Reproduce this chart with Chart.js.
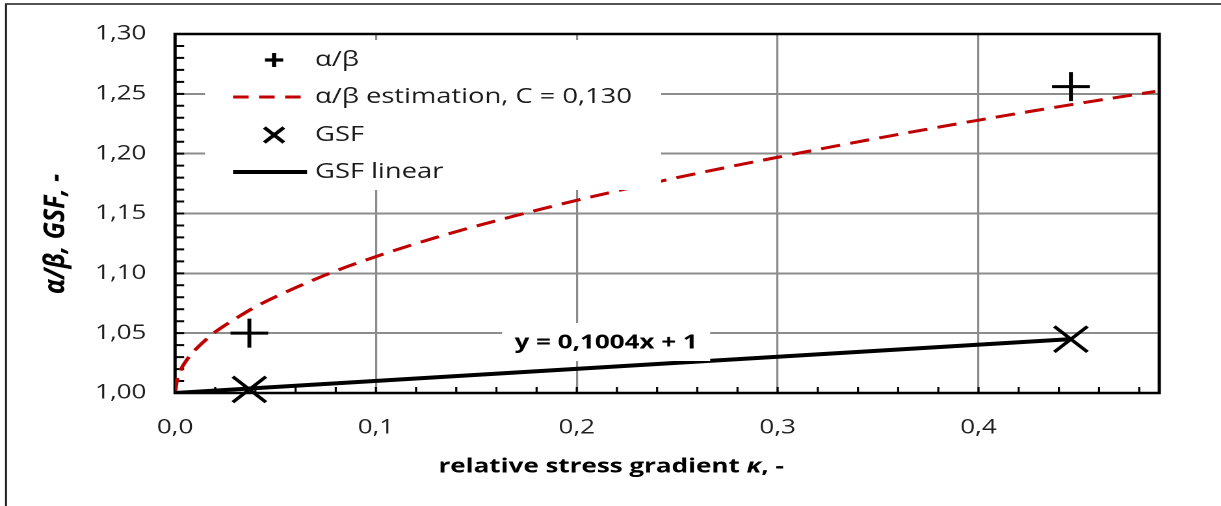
<!DOCTYPE html>
<html>
<head>
<meta charset="utf-8">
<script src="https://cdn.jsdelivr.net/npm/chart.js@4.4.0/dist/chart.umd.min.js"></script>
<style>
  html, body { margin: 0; padding: 0; background: #fff; }
</style>
</head>
<body>
<canvas id="grafico" width="939" height="506" style="display:block;width:1221px;height:506px"></canvas>
<script>
// values
const kappaPoints = [0.037, 0.446];
const alphaBeta = [1.050, 1.256];
const gsf = [1.003, 1.045];

const gsfLineKappa = [0, 0.446];
const gsfLine = [1.000, 1.045];

const estKappa = [0, 0.001, 0.003, 0.006, 0.01, 0.015, 0.02, 0.03, 0.04, 0.06, 0.08, 0.1,
                  0.13, 0.16, 0.2, 0.25, 0.3, 0.35, 0.4, 0.45, 0.488];
const estValues = [1.000, 1.011, 1.020, 1.028, 1.036, 1.044, 1.051, 1.062, 1.072, 1.088, 1.102, 1.114,
                   1.130, 1.144, 1.161, 1.180, 1.197, 1.213, 1.228, 1.242, 1.252];

const seriesNames = ['α/β', 'α/β estimation, C = 0,130', 'GSF', 'GSF linear'];
const xTickLabels = ['0,0', '0,1', '0,2', '0,3', '0,4'];
const yTickLabels = ['1,00', '1,05', '1,10', '1,15', '1,20', '1,25', '1,30'];
const trendLabel = 'y = 0,1004x + 1';
const xTitle = ['relative stress gradient ', 'κ', ', -'];
const yTitle = 'α/β, GSF, -';

// the original picture is stretched sideways, so the canvas is drawn narrow and widened by css
const S = 1.3;
const px = x => x / S;

const rojo = '#c00000';
const gris = '#8c8c8c';
const fuente = "'Open Sans', sans-serif";

const toXY = (xs, ys) => xs.map((x, i) => ({ x: x, y: ys[i] }));

function cruz(c, x, y, r, rot) {
  c.beginPath();
  if (rot) {
    c.moveTo(x - r, y - r); c.lineTo(x + r, y + r);
    c.moveTo(x - r, y + r); c.lineTo(x + r, y - r);
  } else {
    c.moveTo(x - r, y); c.lineTo(x + r, y);
    c.moveTo(x, y - r); c.lineTo(x, y + r);
  }
  c.stroke();
}

const decor = {
  id: 'decor',
  beforeDraw(chart) {
    const c = chart.ctx;
    c.save();
    c.fillStyle = '#fff';
    c.fillRect(0, 0, chart.width, chart.height);
    c.strokeStyle = '#1a1a1a';
    c.lineWidth = 1.5;
    c.beginPath();
    c.moveTo(px(6), chart.height);
    c.lineTo(px(6), 4);
    c.lineTo(chart.width, 4);
    c.stroke();
    c.restore();
  },
  beforeDatasetsDraw(chart) {
    const { ctx: c, chartArea: a, scales: { x, y } } = chart;
    c.save();
    c.strokeStyle = '#000';
    c.beginPath();
    c.lineWidth = 1.6;
    for (let k = 1; k * 0.02 < x.max; k++) {
      const xp = x.getPixelForValue(k * 0.02);
      c.moveTo(xp, a.bottom); c.lineTo(xp, a.bottom - 6);
    }
    c.stroke();
    c.beginPath();
    c.lineWidth = 2;
    for (let k = 1; k < 30; k++) {
      const yp = y.getPixelForValue(1 + k * 0.01);
      c.moveTo(a.left, yp); c.lineTo(a.left + 7, yp);
    }
    c.stroke();
    c.lineWidth = 2.5;
    c.strokeRect(a.left, a.top, a.right - a.left, a.bottom - a.top);
    c.restore();
  },
  afterDatasetsDraw(chart) {
    const c = chart.ctx;
    c.save();

    // leyenda
    c.fillStyle = '#fff';
    c.fillRect(px(205), 40, px(661) - px(205), 150);
    const filas = [60, 97, 135, 172];
    const xs = px(274), x0 = px(233), x1 = px(307), xt = px(315);
    c.strokeStyle = '#000';
    c.lineWidth = 3.2;
    cruz(c, xs, filas[0], 7, false);
    cruz(c, xs, filas[2], 7.5, true);
    c.strokeStyle = rojo;
    c.lineWidth = 3;
    c.setLineDash([12, 8]);
    c.beginPath(); c.moveTo(x0, filas[1]); c.lineTo(x1, filas[1]); c.stroke();
    c.setLineDash([]);
    c.strokeStyle = '#000';
    c.lineWidth = 4;
    c.beginPath(); c.moveTo(x0, filas[3]); c.lineTo(x1, filas[3]); c.stroke();
    c.fillStyle = '#1a1a1a';
    c.font = '21px ' + fuente;
    c.textAlign = 'left';
    c.textBaseline = 'middle';
    seriesNames.forEach((n, i) => c.fillText(n, xt, filas[i]));

    // etiqueta de la tendencia
    c.fillStyle = '#fff';
    c.fillRect(px(502), 323, px(710) - px(502), 38);
    c.fillStyle = '#000';
    c.font = 'bold 20px ' + fuente;
    c.textAlign = 'center';
    c.fillText(trendLabel, px(606), 343);

    // titulos de ejes
    const fonts = ['bold 20px ' + fuente, 'italic bold 20px ' + fuente, 'bold 20px ' + fuente];
    let total = 0;
    const anchos = xTitle.map((t, i) => { c.font = fonts[i]; const w = c.measureText(t).width; total += w; return w; });
    let xx = px(611) - total / 2;
    c.textAlign = 'left';
    xTitle.forEach((t, i) => { c.font = fonts[i]; c.fillText(t, xx, 467); xx += anchos[i]; });

    c.translate(px(56), 234);
    c.rotate(-Math.PI / 2);
    c.scale(1, 0.9);
    c.font = 'italic bold 25px ' + fuente;
    c.textAlign = 'center';
    c.fillText(yTitle, 0, 0);
    c.restore();
  }
};

const ctx = document.getElementById('grafico').getContext('2d');

new Chart(ctx, {
  type: 'scatter',
  data: {
    datasets: [
      {
        label: seriesNames[0],
        data: toXY(kappaPoints, alphaBeta),
        pointStyle: 'cross',
        pointRadius: 14.5,
        pointBorderWidth: 3,
        borderColor: '#000',
        backgroundColor: '#000',
        showLine: false,
        clip: false
      },
      {
        label: seriesNames[2],
        data: toXY(kappaPoints, gsf),
        pointStyle: 'crossRot',
        pointRadius: 18,
        pointBorderWidth: 3,
        borderColor: '#000',
        backgroundColor: '#000',
        showLine: false,
        clip: false
      },
      {
        label: seriesNames[3],
        data: toXY(gsfLineKappa, gsfLine),
        showLine: true,
        borderColor: '#000',
        borderWidth: 4,
        pointRadius: 0
      },
      {
        label: seriesNames[1],
        data: toXY(estKappa, estValues),
        showLine: true,
        borderColor: rojo,
        borderWidth: 3,
        borderDash: [15, 8],
        cubicInterpolationMode: 'monotone',
        pointRadius: 0
      }
    ]
  },
  options: {
    responsive: false,
    animation: false,
    devicePixelRatio: 2,
    layout: { padding: { top: 30, right: 939 - px(1159), left: 0, bottom: 0 } },
    plugins: {
      legend: { display: false },
      tooltip: { enabled: false }
    },
    scales: {
      x: {
        type: 'linear',
        min: 0,
        max: 0.49,
        ticks: {
          stepSize: 0.1,
          includeBounds: false,
          padding: 23,
          color: '#1f1f1f',
          font: { family: fuente, size: 20 },
          callback: (v, i) => xTickLabels[i] ?? ''
        },
        grid: { color: gris, lineWidth: 1.6, drawTicks: false },
        border: { display: false },
        afterFit: s => { s.height = 506 - 393; }
      },
      y: {
        type: 'linear',
        min: 1,
        max: 1.3,
        ticks: {
          stepSize: 0.05,
          padding: 22,
          color: '#1f1f1f',
          font: { family: fuente, size: 20 },
          callback: (v, i) => yTickLabels[i] ?? ''
        },
        grid: { color: gris, lineWidth: 2, drawTicks: false },
        border: { display: false },
        afterFit: s => { s.width = px(175); }
      }
    }
  },
  plugins: [decor]
});
</script>
</body>
</html>
